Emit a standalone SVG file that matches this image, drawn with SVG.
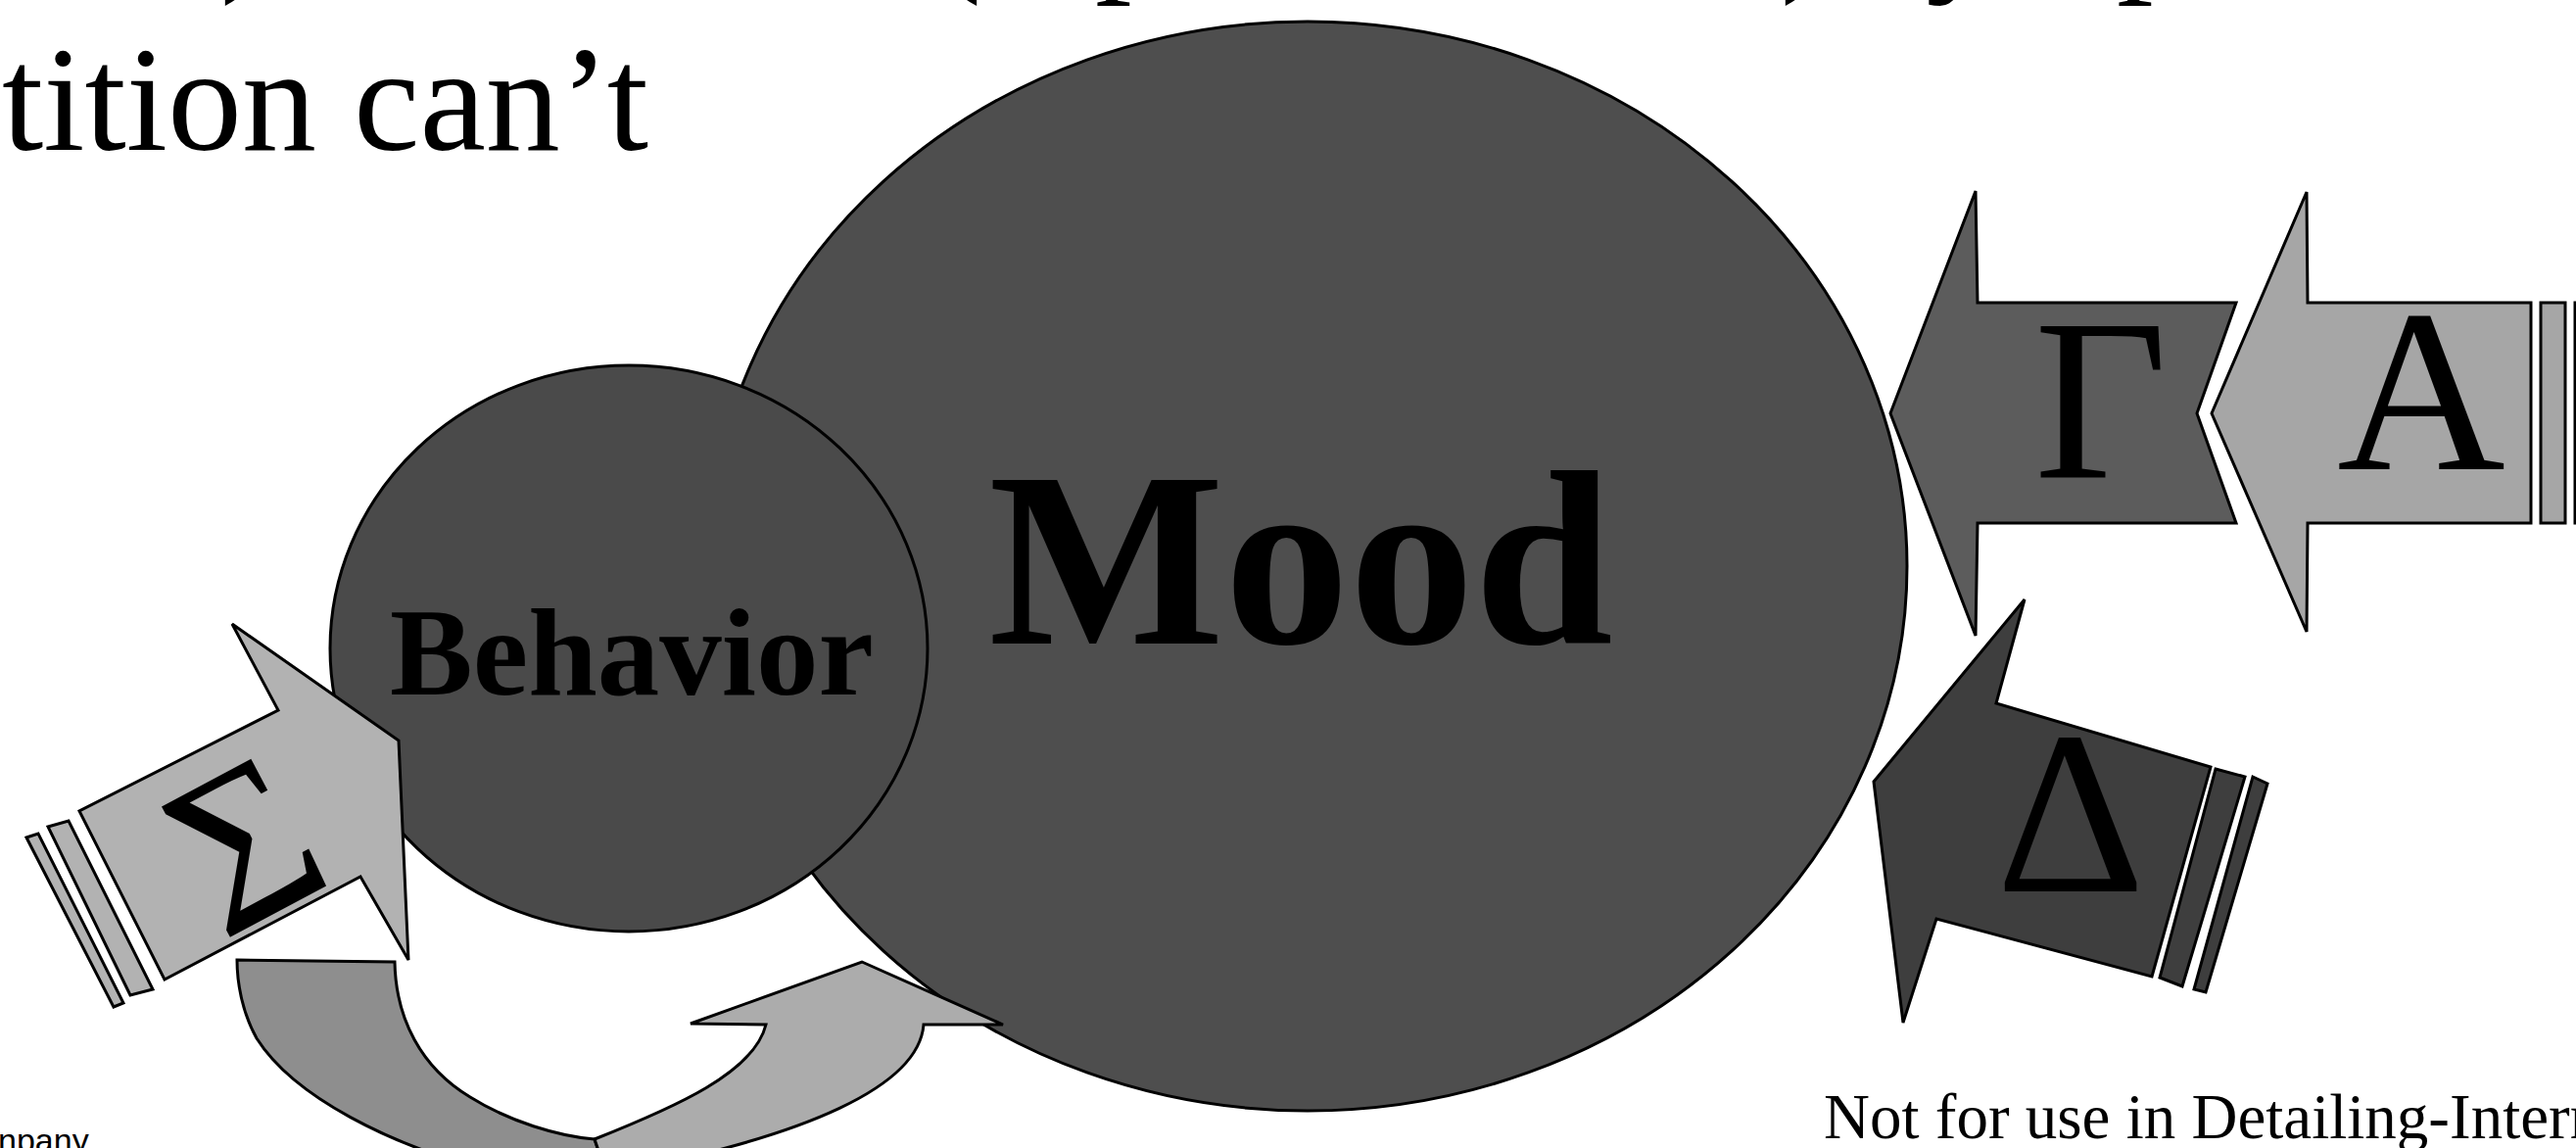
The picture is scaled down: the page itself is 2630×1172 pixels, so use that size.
<svg xmlns="http://www.w3.org/2000/svg" width="2630" height="1172" viewBox="0 0 2630 1172">
<style>
  .ol{stroke:#000;stroke-width:3;stroke-linejoin:miter}
  .serif{font-family:"Liberation Serif","Times New Roman",serif;fill:#000}
  .bold{font-weight:bold}
  .sans{font-family:"Liberation Sans",Arial,sans-serif;fill:#000}
  .mood{fill:#4e4e4e}
  .beh{fill:#4a4a4a}
  .gam{fill:#5c5c5c}
  .alp{fill:#a6a6a6}
  .del{fill:#3e3e3e}
  .sig{fill:#b2b2b2}
  .udark{fill:#8e8e8e}
  .ulight{fill:#acacac}
</style>
<rect x="0" y="0" width="2630" height="1172" fill="#fff"/>

<g id="title">
  <text class="serif" font-size="150" x="225" y="-26">)</text>
  <text class="serif" font-size="150" x="952" y="-26">(</text>
  <text class="serif" font-size="150" x="1118" y="-26">p</text>
  <text class="serif" font-size="150" x="1818" y="-26">)</text>
  <text class="serif" font-size="150" x="1966" y="-26">y</text>
  <text class="serif" font-size="150" x="2161" y="-26">p</text>
  <text class="serif" font-size="152" x="2" y="153">tition can’t</text>
</g>

<g id="mood">
  <ellipse class="mood ol" cx="1335" cy="578" rx="612" ry="556"/>
  <text class="serif bold" font-size="255" x="1328" y="657" text-anchor="middle">Mood</text>
</g>

<g id="behavior">
  <ellipse class="beh ol" cx="642" cy="662" rx="305" ry="289"/>
  <text class="serif bold" font-size="127" x="645" y="709" text-anchor="middle">Behavior</text>
</g>

<g id="arrow-gamma">
  <path class="gam ol" d="M1930,422 L2017,195 L2019,309 L2283,309 L2243,422 L2283,534 L2019,534 L2017,649 Z"/>
  <text class="serif" font-size="236" x="2145" y="487" text-anchor="middle">Γ</text>
</g>

<g id="arrow-alpha">
  <path class="alp ol" d="M2258,422 L2355,196 L2356,309 L2584,309 L2584,534 L2356,534 L2355,645 Z"/>
  <rect class="alp ol" x="2594" y="309" width="25" height="225"/>
  <rect class="alp ol" x="2629" y="309" width="20" height="225"/>
  <text class="serif" font-size="238" x="2472" y="479" text-anchor="middle">Α</text>
</g>

<g id="arrow-delta">
  <path class="del ol" d="M1913,798 L2067,612 L2038,718 L2257,783 L2197,997 L1977,938 L1943,1044 Z"/>
  <path class="del ol" d="M2262,785 L2292,793 L2228,1007 L2205,998 Z"/>
  <path class="del ol" d="M2300,793 L2315,800 L2252,1013 L2240,1010 Z"/>
  <text class="serif" font-size="237" x="2114" y="910" text-anchor="middle">Δ</text>
</g>

<g id="arrow-sigma">
  <path class="sig ol" d="M407,756 L417,980 L368,895 L168,1000 L81,828 L284,725 L237,637 Z"/>
  <path class="sig ol" d="M49,844 L70,838 L156,1010 L133,1016 Z"/>
  <path class="sig ol" d="M27,855 L39,851 L126,1024 L116,1028 Z"/>
  <text class="serif" font-size="230" transform="translate(227,961) rotate(-28)">Σ</text>
</g>

<g id="connectors">
  <path class="udark ol" d="M242,980 L403,982 C404,1040 430,1090 480,1120 C520,1145 570,1160 607,1163 L618,1195 L500,1195 C400,1170 300,1120 262,1060 C248,1035 242,1005 242,980 Z"/>
  <path class="ulight ol" d="M880,982 L1024,1046 L943,1046 C938,1110 820,1160 640,1195 L618,1195 L607,1163 C690,1130 770,1095 782,1046 L705,1045 Z"/>
</g>

<g id="footer">
  <text class="sans" font-size="34" x="-2" y="1176">npany</text>
  <text class="serif" font-size="65" x="1862" y="1162">Not for use in Detailing-Intern</text>
</g>
</svg>
